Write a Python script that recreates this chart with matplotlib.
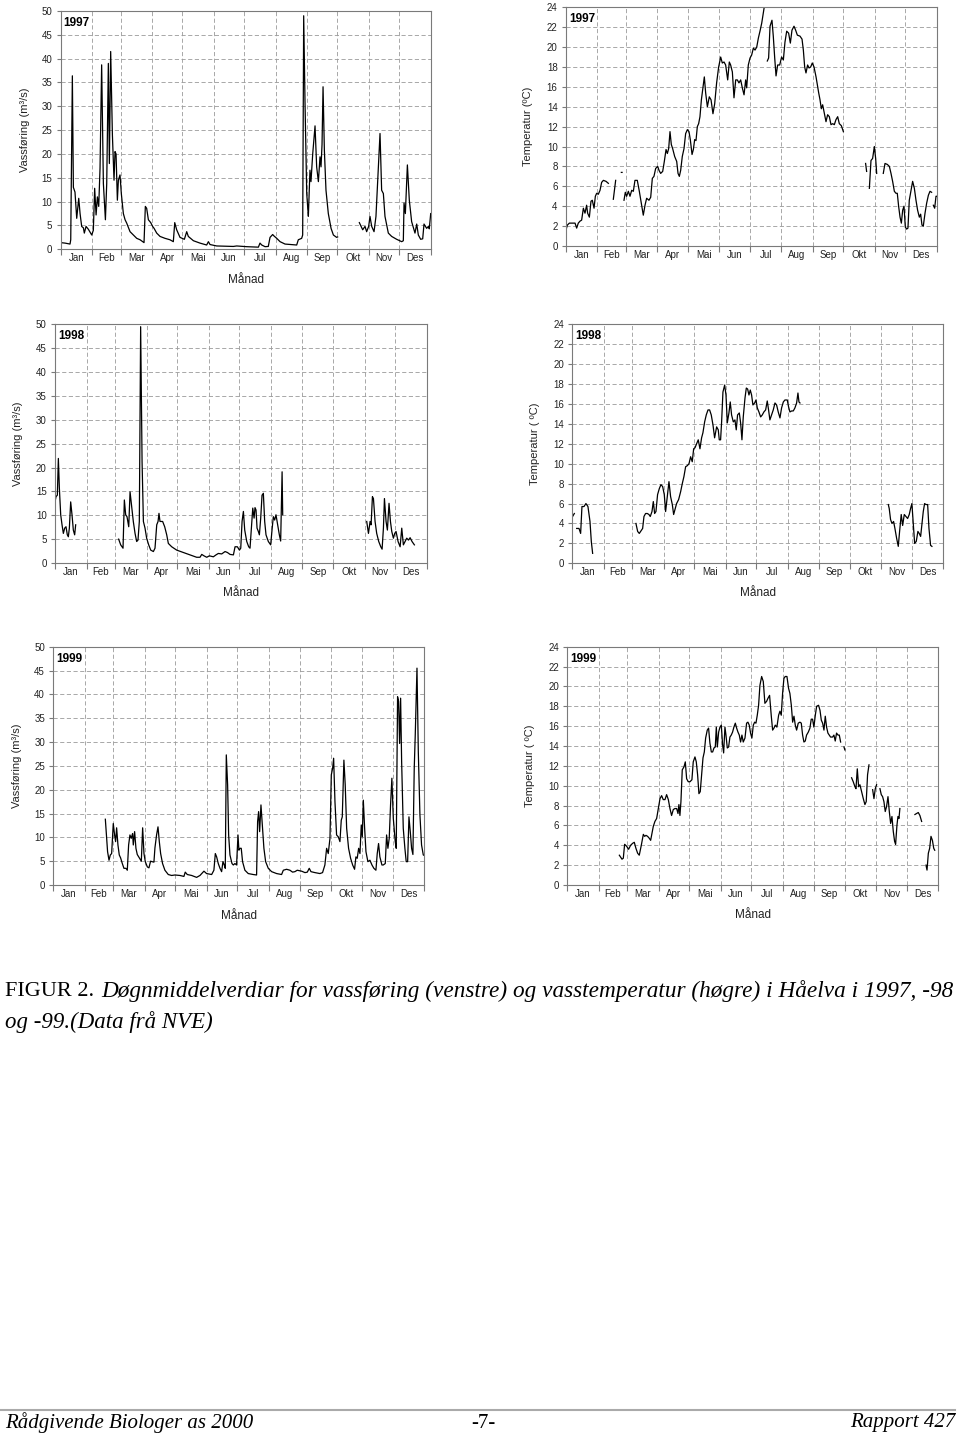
import numpy as np
import matplotlib.pyplot as plt
from matplotlib.lines import Line2D

plt.rcParams['font.family'] = ['Liberation Sans', 'DejaVu Sans']

nan = np.nan
GAP = (nan, nan)

MONTHS = ["Jan", "Feb", "Mar", "Apr", "Mai", "Jun", "Jul", "Aug", "Sep", "Okt", "Nov", "Des"]
MONTH_EDGES = [0, 31, 59, 90, 120, 151, 181, 212, 243, 273, 304, 334, 365]

# (day of year, value); GAP marks missing data
FLOW_1997 = [
    (0, 1.4), (4.3, 1.3), (9.2, 1.1), (9.9, 2.0), (11.5, 36.4), (12.5, 13.0), (14.1, 12.0), (15.8, 6.5),
    (17.8, 10.7), (19.1, 7.5), (20.7, 4.8), (22.4, 4.5), (23.3, 3.4), (25.0, 4.8), (27.3, 4.2), (30.6, 3.0),
    (32.2, 4.0), (33.5, 12.8), (34.9, 7.2), (36.2, 11.0), (37.5, 9.0), (38.8, 17.0), (40.4, 38.7), (42.1, 13.8),
    (44.1, 6.2), (45.4, 13.8), (47.0, 39.0), (48.0, 18.0), (49.3, 41.5), (51.0, 24.0), (52.6, 14.5), (53.6, 20.5),
    (54.6, 20.0), (55.9, 10.3), (56.9, 14.5), (58.5, 15.6), (59.8, 11.7), (61.8, 7.5), (63.5, 6.2), (65.1, 5.5),
    (68.4, 3.7), (71.7, 3.0), (75.0, 2.3), (78.3, 2.0), (82.2, 1.4), (83.5, 9.0), (84.8, 8.6), (86.5, 6.2),
    (88.8, 5.6), (90.7, 4.8), (92.1, 4.4), (94.7, 3.4), (98.0, 2.7), (102.9, 2.3), (107.8, 2.0), (111.1, 1.6),
    (112.5, 5.6), (114.4, 4.1), (117.7, 2.5), (122.0, 2.1), (124.3, 3.7), (125.9, 2.7), (130.9, 1.8), (137.4, 1.3),
    (144.0, 0.9), (145.7, 1.6), (147.3, 1.0), (153.9, 0.7), (170.3, 0.6), (173.6, 0.7), (183.5, 0.55), (195.0, 0.45),
    (196.6, 1.3), (198.3, 0.9), (201.6, 0.55), (204.8, 0.6), (206.5, 2.5), (209.1, 3.1), (210.4, 2.8), (213.1, 2.3),
    (216.4, 1.6), (221.3, 1.1), (232.8, 0.9), (234.4, 2.0), (237.7, 2.3), (238.7, 3.0), (239.7, 49.0), (241.0, 31.0),
    (242.7, 11.7), (244.3, 6.9), (245.9, 16.6), (246.9, 14.2), (248.6, 20.0), (250.9, 25.9), (252.5, 17.3),
    (254.2, 14.2), (255.8, 19.4), (256.8, 17.3), (257.8, 22.0), (258.8, 34.1), (260.1, 20.8), (261.7, 12.4),
    (264.0, 7.5), (266.7, 4.4), (269.0, 3.0), (272.2, 2.5), (273.2, 2.6),
    GAP,
    (294.6, 5.6), (297.9, 4.1), (300.2, 4.8), (301.8, 3.7), (303.8, 4.8), (305.1, 6.9), (306.8, 4.8), (309.1, 3.7),
    (311.0, 6.9), (312.7, 14.5), (315.0, 24.3), (316.6, 12.4), (318.3, 11.7), (319.9, 6.9), (323.2, 3.4),
    (326.5, 2.7), (331.4, 2.1), (336.4, 1.6), (338.0, 1.8), (338.7, 9.7), (340.0, 7.5), (342.0, 17.7),
    (343.9, 10.3), (346.2, 5.8), (349.5, 3.4), (351.2, 5.3), (352.8, 3.0), (355.1, 2.1), (357.1, 2.2),
    (358.4, 5.3), (361.0, 4.4), (362.7, 4.8), (363.6, 4.3), (365.0, 7.5),
]

TEMP_1997 = [
    (0, 1.6), (1.3, 2.1), (3.3, 2.3), (7.2, 2.3), (8.9, 2.3), (10.5, 1.8), (12.1, 2.3), (13.8, 2.5), (15.4, 2.6),
    (17.1, 3.8), (18.7, 3.3), (20.3, 4.1), (21.3, 3.3), (23.0, 2.9), (24.6, 4.5), (25.9, 4.6), (27.6, 3.8),
    (28.9, 5.0), (30.2, 5.3), (31.8, 5.2), (33.5, 5.6), (35.1, 6.4), (36.8, 6.6), (39.4, 6.5), (41.7, 6.3),
    GAP, (46.6, 4.7), (48.9, 6.6), GAP, (54.5, 7.4), (55.2, 7.4), GAP,
    (57.1, 4.6), (58.4, 5.4), (59.7, 5.0), (61.4, 5.5), (63.0, 5.0), (64.7, 5.6), (66.3, 5.5), (67.9, 6.6),
    (70.2, 6.6), (72.2, 5.5), (74.2, 4.3), (76.1, 3.1), (77.8, 4.1), (79.4, 4.8), (81.7, 4.6), (83.4, 4.9),
    (85.0, 6.8), (86.6, 7.0), (88.3, 7.8), (90.3, 8.0), (91.6, 7.6), (93.2, 7.3), (95.2, 7.5), (96.8, 8.5),
    (98.5, 9.7), (99.8, 9.3), (101.1, 9.8), (102.4, 11.5), (103.7, 10.2), (105.0, 9.8), (107.0, 9.0), (109.0, 8.5),
    (110.3, 7.3), (111.6, 7.0), (112.9, 7.6), (114.5, 9.0), (116.2, 9.8), (117.8, 11.3), (119.5, 11.7),
    (121.1, 11.5), (122.4, 10.7), (124.1, 9.2), (125.4, 9.7), (126.7, 10.7), (128.0, 10.6), (129.3, 12.0),
    (130.6, 12.3), (131.9, 13.0), (133.3, 14.7), (134.6, 15.7), (136.2, 17.0), (137.5, 15.4), (139.2, 14.0),
    (141.1, 15.0), (142.8, 14.7), (144.7, 13.3), (146.4, 14.3), (148.3, 16.4), (150.3, 18.0), (152.3, 19.0),
    (153.9, 18.4), (155.6, 18.5), (157.2, 18.2), (159.2, 16.7), (160.8, 18.5), (162.1, 18.2), (163.8, 17.5),
    (165.4, 14.9), (167.1, 16.7), (168.7, 16.7), (170.3, 16.4), (172.0, 16.7), (173.6, 15.9), (175.3, 15.2),
    (176.9, 16.7), (177.9, 15.9), (179.5, 18.2), (181.2, 18.9), (182.8, 19.2), (184.5, 19.9), (186.1, 19.7),
    (187.8, 20.0), (189.4, 20.9), (191.0, 21.6), (192.7, 22.4), (195.0, 23.9),
    GAP,
    (198.2, 18.6), (199.5, 18.9), (200.9, 22.1), (202.8, 22.7), (204.1, 21.1), (205.5, 18.9), (206.8, 17.1),
    (208.4, 18.2), (210.4, 18.2), (212.3, 19.0), (214.0, 18.7), (215.6, 20.5), (217.3, 21.6), (219.2, 21.4),
    (220.9, 20.4), (222.5, 21.7), (224.5, 22.1), (226.1, 21.7), (227.8, 21.2), (230.4, 21.1), (232.4, 20.8),
    (233.7, 19.7), (235.0, 18.0), (236.3, 17.4), (237.9, 18.2), (239.3, 17.9), (240.9, 18.0), (242.5, 18.4),
    (244.2, 18.0), (246.2, 17.0), (247.5, 16.2), (248.8, 15.4), (250.1, 14.7), (251.4, 13.8), (252.7, 14.2),
    (254.4, 13.3), (256.0, 12.5), (257.6, 13.2), (259.3, 13.0), (260.9, 12.2), (262.6, 12.3), (264.2, 12.2),
    (265.8, 12.7), (267.5, 13.0), (269.1, 12.3), (271.1, 12.1), (273.1, 11.5),
    GAP, (295.0, 8.3), (296.0, 7.5), GAP,
    (298.7, 5.8), (300.3, 8.6), (301.9, 8.8), (303.6, 10.0), (304.9, 8.8), (305.9, 7.3),
    GAP,
    (312.4, 7.3), (314.1, 8.3), (316.4, 8.2), (318.4, 8.0), (320.0, 7.3), (321.6, 6.5), (323.3, 5.5),
    (324.9, 5.3), (326.2, 5.3), (327.5, 4.0), (328.9, 2.9), (330.2, 2.3), (331.5, 3.6), (332.8, 4.0),
    (334.1, 1.9), (335.4, 1.7), (336.7, 1.8), (338.0, 4.6), (339.7, 5.6), (341.3, 6.5), (343.0, 5.8),
    (344.6, 4.6), (346.2, 3.6), (347.9, 2.9), (349.2, 3.2), (350.5, 2.1), (351.8, 2.0), (353.5, 3.3),
    (355.1, 4.3), (356.8, 5.1), (358.4, 5.5), (360.0, 5.4),
    GAP, (361.7, 4.1), (363.0, 3.8), (364.3, 5.0), (365.0, 5.0),
]

FLOW_1998 = [
    (0, 12.8), (1.0, 13.9), (2.3, 14.2), (3.3, 21.9), (4.3, 15.6), (5.6, 10.1), (6.9, 8.0), (8.2, 6.2),
    (9.5, 7.3), (10.8, 7.6), (12.1, 5.9), (13.1, 5.5), (14.1, 7.3), (15.4, 12.8), (16.7, 10.1), (18.0, 6.9),
    (19.3, 5.9), (20.3, 8.0),
    GAP,
    (62.5, 5.0), (64.5, 3.8), (66.8, 3.1), (68.1, 13.2), (69.4, 10.1), (70.7, 9.7), (72.4, 7.6), (73.7, 14.9),
    (75.3, 11.8), (76.9, 8.7), (78.6, 6.2), (80.2, 4.5), (81.5, 4.8), (82.8, 8.7), (84.1, 49.5), (85.5, 21.2),
    (86.8, 8.7), (88.4, 7.3), (90.0, 5.2), (92.0, 3.8), (94.0, 2.7), (96.6, 2.4), (98.2, 3.1), (99.9, 8.0),
    (101.2, 8.7), (102.1, 10.4), (103.1, 8.7), (105.7, 8.7), (107.7, 7.6), (109.7, 5.9), (111.3, 4.1),
    (114.6, 3.4), (119.5, 2.7), (126.0, 2.2), (132.6, 1.7), (139.1, 1.2), (142.4, 1.2), (144.1, 1.8),
    (146.3, 1.5), (149.0, 1.2), (151.6, 1.5), (155.5, 1.3), (158.1, 1.7), (160.4, 2.0), (163.7, 1.9),
    (167.0, 2.4), (169.3, 2.2), (171.9, 1.8), (175.2, 1.7), (176.8, 3.4), (179.1, 3.4), (181.1, 2.7),
    (182.4, 3.1), (183.7, 8.7), (185.0, 10.8), (186.3, 6.9), (188.3, 4.5), (190.2, 3.4), (191.5, 3.1),
    (192.8, 7.3), (194.2, 11.5), (195.5, 9.4), (196.4, 11.6), (197.4, 11.1), (198.4, 7.3), (199.7, 6.6),
    (200.7, 5.9), (202.0, 9.4), (203.3, 14.2), (204.6, 14.6), (205.9, 8.7), (207.2, 5.9), (209.5, 4.5),
    (211.8, 3.8), (213.1, 6.9), (214.4, 9.7), (215.7, 9.0), (217.0, 10.1), (218.6, 8.0), (220.3, 5.9),
    (221.6, 4.6), (223.0, 19.1), (223.6, 10.1),
    GAP,
    (306.1, 8.7), (307.8, 6.2), (309.4, 8.7), (310.4, 8.0), (311.7, 13.9), (312.7, 13.5), (314.3, 8.7),
    (315.9, 6.2), (317.9, 4.5), (319.9, 3.4), (321.2, 2.9), (322.5, 7.3), (323.5, 13.5), (325.1, 8.7),
    (326.4, 6.9), (328.0, 12.5), (329.4, 8.7), (330.7, 6.6), (332.3, 5.2), (333.6, 6.2), (334.9, 6.6),
    (336.9, 4.5), (338.9, 3.4), (340.5, 7.3), (342.1, 3.8), (343.8, 4.5), (345.4, 5.2), (347.1, 4.8),
    (348.7, 5.3), (350.6, 4.5), (352.9, 3.8),
]

TEMP_1998 = [
    (0.3, 4.7), (2.0, 5.0), GAP,
    (4.3, 3.5), (6.6, 3.5), (8.2, 3.0), (9.5, 5.7), (11.5, 5.7), (13.4, 6.0), (15.4, 5.7), (17.4, 4.2),
    (18.7, 2.2), (20.0, 1.0),
    GAP,
    (62.6, 4.0), (64.3, 3.2), (65.9, 3.0), (67.9, 3.3), (69.2, 3.5), (70.5, 4.7), (72.1, 5.0), (73.8, 5.0),
    (75.4, 4.9), (76.7, 4.7), (78.4, 5.2), (79.7, 6.2), (81.0, 5.0), (82.3, 5.2), (83.9, 6.9), (85.6, 7.5),
    (87.2, 7.9), (88.9, 7.7), (90.5, 6.9), (91.8, 5.2), (93.5, 6.7), (95.1, 8.2), (96.7, 6.7), (98.4, 5.9),
    (99.7, 4.9), (101.3, 5.5), (102.6, 6.0), (104.6, 6.4), (106.6, 7.2), (108.2, 8.0), (109.8, 8.7),
    (111.5, 9.7), (113.1, 9.8), (114.8, 10.0), (116.4, 10.7), (118.0, 10.2), (119.4, 11.5), (120.7, 11.6),
    (122.3, 12.0), (123.9, 12.4), (125.6, 11.5), (127.2, 12.6), (128.5, 13.1), (130.2, 14.2), (131.8, 14.9),
    (133.5, 15.4), (135.1, 15.4), (136.7, 14.9), (138.4, 13.9), (140.0, 12.6), (142.0, 13.7), (143.6, 13.4),
    (144.6, 12.4), (145.9, 12.4), (146.9, 14.2), (148.2, 17.2), (149.9, 17.9), (151.2, 16.9), (152.5, 14.1),
    (154.1, 15.1), (155.4, 16.2), (156.7, 14.9), (158.4, 14.2), (160.0, 14.4), (161.3, 13.4), (162.6, 14.9),
    (164.3, 15.1), (165.6, 14.1), (166.9, 12.4), (168.2, 14.7), (169.9, 16.6), (171.2, 17.6), (172.5, 17.5),
    (173.8, 16.9), (175.1, 17.4), (176.4, 16.9), (177.7, 15.9), (179.4, 16.1), (180.7, 16.4), (182.0, 15.6),
    (183.6, 15.2), (185.3, 14.7), (186.9, 14.9), (188.5, 15.2), (190.2, 15.4), (191.8, 16.3), (193.1, 15.4),
    (194.4, 14.4), (196.1, 14.9), (197.7, 15.4), (199.4, 16.1), (201.0, 15.9), (202.6, 15.2), (204.3, 14.6),
    (205.9, 15.6), (207.6, 16.2), (209.2, 16.4), (211.5, 16.4), (212.8, 15.7), (214.1, 15.2), (215.8, 15.3),
    (217.4, 15.3), (219.0, 15.6), (220.7, 16.1), (222.0, 17.1), (223.0, 16.2), (224.0, 16.1),
    GAP,
    (310.9, 5.9), (311.8, 5.5), (313.1, 4.4), (314.5, 4.0), (316.1, 4.2), (317.4, 3.5), (319.1, 2.5),
    (320.7, 1.7), (322.0, 3.2), (323.6, 4.9), (325.0, 3.8), (326.6, 4.9), (328.2, 4.7), (329.9, 4.5),
    (331.5, 4.9), (332.8, 5.5), (334.1, 6.0), (335.4, 4.0), (336.8, 2.0), (338.4, 2.2), (340.0, 3.2),
    (341.3, 3.0), (342.7, 2.7), (344.0, 4.0), (345.3, 5.2), (346.6, 6.0), (347.9, 5.9), (349.6, 5.9),
    (350.9, 3.5), (352.5, 1.8), (353.8, 1.7),
]

FLOW_1999 = [
    (51.2, 13.8), (52.5, 9.8), (53.4, 7.0), (54.8, 5.2), (56.1, 6.3), (57.4, 6.6), (59.0, 12.9), (60.3, 10.5),
    (61.3, 9.1), (62.3, 12.0), (63.6, 8.4), (64.9, 6.3), (66.2, 5.7), (67.9, 4.5), (69.5, 3.5), (71.5, 3.5),
    (72.8, 3.1), (74.1, 8.4), (75.4, 10.5), (76.7, 9.8), (78.0, 10.8), (78.7, 8.4), (80.0, 11.2), (81.3, 7.7),
    (82.6, 6.4), (84.6, 5.7), (86.6, 5.0), (87.9, 12.0), (89.2, 6.6), (90.5, 4.9), (92.5, 3.8), (94.1, 3.6),
    (95.7, 5.0), (97.1, 4.9), (99.0, 4.8), (100.0, 7.8), (101.6, 10.5), (103.0, 12.2), (104.3, 9.1),
    (105.6, 6.6), (107.5, 4.5), (109.8, 3.1), (113.1, 2.2), (116.4, 2.0), (119.7, 2.1), (124.6, 2.0),
    (128.5, 1.8), (129.8, 2.7), (131.8, 2.2), (136.1, 2.0), (141.0, 1.6), (144.3, 2.0), (148.2, 2.9),
    (150.8, 2.4), (155.8, 2.2), (158.0, 3.1), (159.4, 6.6), (160.7, 5.9), (162.3, 4.5), (164.0, 3.5),
    (165.6, 2.8), (166.9, 4.9), (168.2, 4.2), (169.2, 3.5), (170.2, 27.3), (171.5, 21.0), (172.5, 10.5),
    (173.8, 6.3), (175.8, 4.5), (177.1, 4.2), (178.7, 4.5), (180.3, 4.2), (181.7, 10.5), (182.6, 7.3),
    (183.6, 7.7), (184.9, 7.7), (186.2, 4.9), (188.5, 3.1), (191.8, 2.4), (196.7, 2.2), (200.0, 2.1),
    (201.0, 13.3), (202.0, 15.4), (203.0, 11.2), (204.3, 16.8), (205.9, 11.9), (207.2, 7.7), (208.9, 4.9),
    (211.5, 3.5), (214.8, 2.8), (219.7, 2.4), (224.6, 2.2), (226.3, 3.1), (229.5, 3.3), (232.8, 3.1),
    (235.4, 2.7), (237.7, 2.8), (240.0, 3.1), (244.3, 2.9), (247.6, 2.6), (249.9, 2.7), (251.8, 3.5),
    (253.5, 2.8), (257.4, 2.6), (262.3, 2.4), (264.9, 2.6), (267.2, 4.2), (268.9, 7.7), (270.5, 6.6),
    (272.2, 9.8), (273.5, 23.1), (274.8, 24.5), (275.8, 26.6), (277.1, 17.5), (278.7, 10.5), (280.4, 10.1),
    (282.0, 9.1), (283.3, 13.6), (284.3, 14.3), (285.9, 26.2), (287.2, 21.0), (288.6, 11.9), (290.5, 7.7),
    (292.5, 5.6), (294.5, 4.2), (296.4, 3.3), (297.7, 5.9), (299.0, 5.6), (300.4, 7.7), (301.7, 6.6),
    (303.0, 12.6), (304.0, 10.1), (305.0, 17.8), (306.3, 11.9), (307.6, 7.0), (309.5, 4.9), (311.5, 5.2),
    (313.5, 4.2), (315.4, 3.5), (317.4, 3.1), (318.7, 6.6), (320.0, 8.7), (321.3, 5.9), (323.3, 4.2),
    (324.6, 4.2), (326.6, 4.5), (327.9, 10.5), (329.2, 7.7), (330.5, 9.8), (331.8, 16.8), (333.1, 22.4),
    (334.5, 14.0), (336.4, 9.1), (337.4, 7.7), (338.7, 39.5), (339.7, 38.5), (340.7, 29.7), (341.7, 39.2),
    (342.7, 25.9), (344.3, 11.9), (345.9, 7.7), (347.2, 4.9), (348.6, 4.9), (349.9, 14.3), (351.2, 11.2),
    (352.5, 7.7), (353.8, 6.4), (355.1, 24.5), (356.1, 31.5), (357.8, 45.5), (359.1, 28.0), (360.7, 14.7),
    (362.3, 8.4), (364.0, 6.3), (365.0, 6.2),
]

TEMP_1999 = [
    (51.2, 3.0), (52.5, 2.8), (53.8, 2.6), (55.1, 2.7), (56.4, 4.1), (58.4, 3.9), (60.3, 3.6), (62.3, 4.0),
    (64.3, 4.2), (65.9, 4.3), (67.5, 3.7), (69.2, 3.2), (70.8, 3.0), (72.8, 4.0), (74.8, 5.1), (76.1, 4.9),
    (77.4, 5.0), (79.0, 4.9), (80.7, 4.7), (82.0, 4.5), (83.3, 5.2), (84.6, 5.9), (86.2, 6.4), (87.9, 6.7),
    (89.5, 7.7), (91.2, 8.7), (92.8, 9.0), (94.4, 8.6), (96.1, 8.6), (97.7, 9.1), (99.4, 8.6), (101.0, 7.7),
    (102.6, 7.0), (104.3, 7.6), (105.9, 7.7), (107.6, 7.7), (108.9, 7.2), (109.8, 8.1), (110.8, 7.0),
    (111.8, 8.4), (113.1, 11.6), (114.8, 11.9), (116.1, 12.4), (117.4, 10.7), (119.0, 10.4), (120.7, 10.4),
    (122.6, 10.6), (123.9, 12.4), (125.6, 12.9), (126.9, 12.4), (128.2, 11.1), (129.5, 9.2), (130.8, 9.4),
    (132.1, 11.1), (133.5, 12.8), (134.8, 13.4), (136.1, 14.8), (137.7, 15.6), (139.0, 15.8), (140.3, 14.3),
    (141.7, 13.4), (143.0, 13.4), (144.3, 13.8), (145.6, 13.9), (146.6, 15.9), (147.6, 13.9), (148.9, 15.4),
    (150.2, 15.9), (151.5, 16.1), (152.8, 14.1), (153.8, 13.3), (155.1, 15.9), (156.1, 15.1), (157.4, 13.8),
    (158.7, 13.9), (160.0, 14.9), (161.3, 15.1), (162.6, 15.4), (163.9, 15.9), (165.3, 16.3), (166.6, 15.8),
    (167.9, 15.4), (169.2, 15.1), (170.5, 14.4), (171.8, 15.1), (173.1, 14.4), (174.8, 14.8), (176.4, 16.3),
    (177.7, 16.4), (179.0, 16.1), (180.3, 15.3), (181.6, 14.8), (183.0, 16.1), (184.3, 16.4), (185.6, 16.3),
    (186.9, 17.1), (188.2, 18.1), (189.5, 20.1), (191.2, 21.0), (192.8, 20.5), (194.4, 18.3), (196.1, 18.5),
    (197.4, 18.8), (199.0, 19.1), (200.7, 17.0), (202.0, 15.6), (203.3, 15.8), (204.6, 16.1), (206.2, 15.9),
    (207.9, 17.1), (209.2, 17.5), (210.5, 17.1), (211.8, 19.3), (213.1, 20.8), (214.4, 21.0), (216.1, 21.0),
    (217.7, 19.8), (219.0, 19.3), (220.4, 18.1), (221.7, 16.4), (223.0, 17.0), (224.3, 16.1), (225.6, 15.6),
    (227.2, 16.3), (228.9, 16.4), (230.2, 16.3), (231.5, 15.1), (232.8, 14.4), (234.1, 14.5), (235.4, 15.1),
    (237.1, 15.4), (238.7, 15.8), (240.0, 16.7), (241.3, 16.7), (242.6, 15.9), (244.0, 17.1), (245.3, 18.0),
    (247.2, 18.1), (248.6, 17.6), (249.9, 16.6), (251.2, 16.3), (252.5, 15.6), (253.8, 17.0), (255.1, 15.9),
    (256.4, 15.3), (257.7, 15.1), (259.0, 14.9), (261.0, 14.9), (262.3, 15.1), (263.6, 14.5), (264.9, 15.3),
    (266.3, 15.1), (267.6, 15.1), (268.9, 14.4),
    GAP, (272.2, 13.9), (273.1, 13.6), GAP,
    (279.7, 10.8), (281.3, 10.4), (283.0, 9.9), (284.0, 9.7), (285.3, 11.7), (286.6, 9.9), (287.9, 10.1),
    (289.5, 9.4), (291.2, 8.7), (292.8, 8.1), (294.1, 8.4), (295.4, 11.1), (296.8, 12.1),
    GAP,
    (300.4, 9.6), (301.7, 8.7), (303.0, 9.7), (304.3, 10.1),
    GAP,
    (307.6, 9.7), (308.9, 9.1), (310.2, 8.9), (311.5, 8.4), (312.8, 7.4), (314.1, 7.9), (315.5, 8.9),
    (316.8, 7.4), (318.1, 6.2), (319.4, 6.9), (320.7, 5.4), (322.0, 4.4), (323.0, 4.1), (324.3, 6.0),
    (325.3, 6.9), (326.3, 6.7), (327.2, 7.7),
    GAP,
    (342.0, 7.1), (343.6, 7.2), (345.3, 7.3), (346.9, 7.0), (348.6, 6.4),
    GAP,
    (352.9, 2.0), (353.9, 1.5), (355.2, 3.2), (356.5, 3.7), (357.8, 4.9), (359.2, 4.5), (360.5, 3.7),
    (361.5, 3.5),
]

W, H = 960, 1436
fig = plt.figure(figsize=(W / 100, H / 100), dpi=100)

GRID = '#9a9a9a'
FRAME = '#7a7a7a'


def panel(box, pairs, ymax, ystep, year, ylabel, ylabel_x, xlabel_y=None):
    left, right, top, bottom = box
    ax = fig.add_axes([left / W, 1 - bottom / H, (right - left) / W, (bottom - top) / H])
    days, vals = np.array(pairs, dtype=float).T
    ax.plot(days, vals, color='black', lw=0.9)
    ax.set_xlim(0, 365)
    ax.set_ylim(0, ymax)

    mids = [(a + b) / 2 for a, b in zip(MONTH_EDGES[:-1], MONTH_EDGES[1:])]
    ax.set_xticks(MONTH_EDGES)
    ax.set_xticklabels([])
    ax.set_xticks(mids, minor=True)
    ax.set_xticklabels(MONTHS, minor=True)
    ax.tick_params(axis='x', which='major', length=4, width=0.8, color=FRAME, direction='out')
    ax.tick_params(axis='x', which='minor', length=0, pad=3, labelsize=7, labelcolor='#222')
    ax.set_yticks(np.arange(0, ymax + 0.1, ystep))
    ax.tick_params(axis='y', length=3, width=0.8, color=FRAME, labelsize=7, pad=3, labelcolor='#222')

    ax.grid(True, which='major', color=GRID, lw=0.6, ls=(0, (5, 3)))
    for s in ax.spines.values():
        s.set_color(FRAME)
        s.set_linewidth(0.8)

    ax.text(3 / (right - left), 1 - 12 / (bottom - top), year, transform=ax.transAxes,
            ha='left', va='center', fontsize=8.5, fontweight='bold')
    fig.text(ylabel_x / W, 1 - (top + bottom) / 2 / H, ylabel, rotation=90,
             ha='center', va='center', fontsize=8, color='#222')
    if xlabel_y is not None:
        fig.text((left + right) / 2 / W, 1 - xlabel_y / H, 'Månad',
                 ha='center', va='center', fontsize=8.5, color='#222')
    return ax


flow_label = 'Vassføring (m³/s)'
panel((60.7, 430.7, 11.0, 249.3), FLOW_1997, 50, 5, '1997', flow_label, 25, 280)
panel((566.0, 936.7, 7.3, 246.0), TEMP_1997, 24, 2, '1997', 'Temperatur (ºC)', 528)
panel((55.0, 426.7, 324.3, 563.0), FLOW_1998, 50, 5, '1998', flow_label, 18, 593)
panel((572.3, 943.3, 324.3, 563.3), TEMP_1998, 24, 2, '1998', 'Temperatur ( ºC)', 535, 593)
panel((53.3, 424.3, 646.7, 885.0), FLOW_1999, 50, 5, '1999', flow_label, 17, 916)
panel((567.3, 938.3, 646.7, 885.0), TEMP_1999, 24, 2, '1999', 'Temperatur ( ºC)', 530, 915)

# caption: the italic part is sized so the first line ends where the original does
serif = ['Liberation Serif', 'DejaVu Serif']
renderer = fig.canvas.get_renderer()
t1 = fig.text(5 / W, 1 - 991 / H, 'FIGUR 2.', family=serif, fontsize=16, va='center', ha='left')
x_start = t1.get_window_extent(renderer).x1 + 7
t2 = fig.text(x_start / W, 1 - 991 / H,
              'Døgnmiddelverdiar for vassføring (venstre) og vasstemperatur (høgre) i Håelva i 1997, -98',
              family=serif, style='italic', fontsize=16, va='center', ha='left')
width = t2.get_window_extent(renderer).width
t2.set_fontsize(16 * (955 - x_start) / width)
fig.text(5 / W, 1 - 1022 / H, 'og -99.(Data frå NVE)', family=serif, style='italic',
         fontsize=16.5, va='center', ha='left')

# footer
fig.add_artist(Line2D([0, 955 / W], [1 - 1410 / H] * 2, transform=fig.transFigure, color='#aaaaaa', lw=1.5))
fig.text(5 / W, 1 - 1423 / H, 'Rådgivende Biologer as 2000', family=serif, style='italic',
         fontsize=15, va='center', ha='left')
fig.text(483 / W, 1 - 1423 / H, '-7-', family=serif, fontsize=15, va='center', ha='center')
fig.text(955 / W, 1 - 1423 / H, 'Rapport 427', family=serif, style='italic',
         fontsize=15, va='center', ha='right')

fig.savefig('out.png', dpi=100, facecolor='white')
